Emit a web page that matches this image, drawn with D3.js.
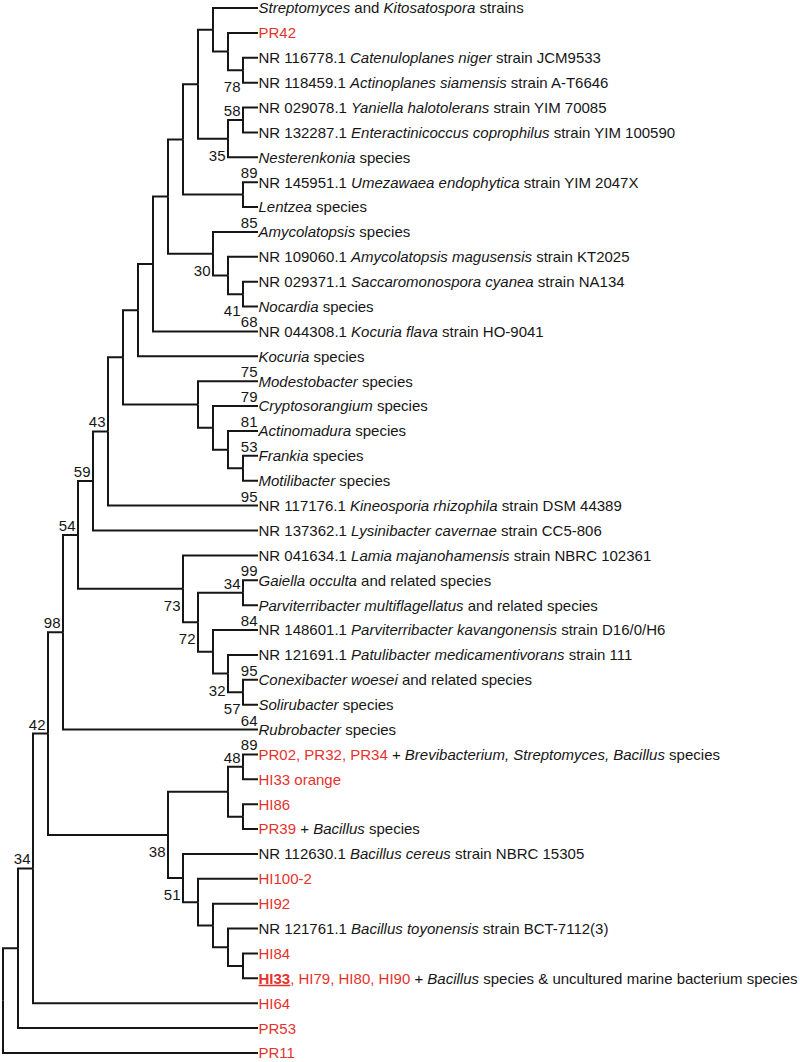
<!DOCTYPE html>
<html><head><meta charset="utf-8">
<script src="https://cdn.jsdelivr.net/npm/d3@7"></script>
<style>html,body{margin:0;padding:0;background:#fff}svg{display:block}</style>
</head><body>
<svg id="chart" width="800" height="1062"></svg>
<script>
// Leaf labels, top to bottom. *italic*, {red}, [bold underlined]
const leafLabels = [
  "*Streptomyces* and *Kitosatospora* strains",
  "{PR42}",
  "NR 116778.1 *Catenuloplanes niger* strain JCM9533",
  "NR 118459.1 *Actinoplanes siamensis* strain A-T6646",
  "NR 029078.1 *Yaniella halotolerans* strain YIM 70085",
  "NR 132287.1 *Enteractinicoccus coprophilus* strain YIM 100590",
  "*Nesterenkonia* species",
  "NR 145951.1 *Umezawaea endophytica* strain YIM 2047X",
  "*Lentzea* species",
  "*Amycolatopsis* species",
  "NR 109060.1 *Amycolatopsis magusensis* strain KT2025",
  "NR 029371.1 *Saccaromonospora cyanea* strain NA134",
  "*Nocardia* species",
  "NR 044308.1 *Kocuria flava* strain HO-9041",
  "*Kocuria* species",
  "*Modestobacter* species",
  "*Cryptosorangium* species",
  "*Actinomadura* species",
  "*Frankia* species",
  "*Motilibacter* species",
  "NR 117176.1 *Kineosporia rhizophila* strain DSM 44389",
  "NR 137362.1 *Lysinibacter cavernae* strain CC5-806",
  "NR 041634.1 *Lamia majanohamensis* strain NBRC 102361",
  "*Gaiella occulta* and related species",
  "*Parviterribacter multiflagellatus* and related species",
  "NR 148601.1 *Parviterribacter kavangonensis* strain D16/0/H6",
  "NR 121691.1 *Patulibacter medicamentivorans* strain 111",
  "*Conexibacter woesei* and related species",
  "*Solirubacter* species",
  "*Rubrobacter* species",
  "{PR02, PR32, PR34} + *Brevibacterium, Streptomyces, Bacillus* species",
  "{HI33 orange}",
  "{HI86}",
  "{PR39} + *Bacillus* species",
  "NR 112630.1 *Bacillus cereus* strain NBRC 15305",
  "{HI100-2}",
  "{HI92}",
  "NR 121761.1 *Bacillus toyonensis* strain BCT-7112(3)",
  "{HI84}",
  "{[HI33], HI79, HI80, HI90} + *Bacillus* species & uncultured marine bacterium species",
  "{HI64}",
  "{PR53}",
  "{PR11}"
];

// Tree topology (Newick, leaves = 1-based index into leafLabels, internal labels = bootstrap)
const topology = "(((((((((((((((1,(2,(3,4)78)),((5,6)58,7)35),(8,9)),(10,(11,(12,13)41))30),14),15),(16,(17,(18,(19,20))))),21)43,22)59,(23,((24,25)34,(26,(27,(28,29)57)32))72)73)54,30)98,(((31,32)48,(33,34)),(35,(36,(37,(38,(39,40)))))51)38)42,41)34,42),43)";

// Bootstrap values printed above leaf tips: [leaf index, value]
const tipSupport = [[8,89],[10,85],[14,68],[16,75],[17,79],[18,81],[19,53],[21,95],[24,99],[26,84],[28,95],[30,64],[31,89]];

// Internal bootstrap values drawn below-left of their node (others above-left)
const belowNodeSupport = [78,35,30,41,73,72,32,57,38,51];

function parseNewick(s) {
  let i = 0;
  function node() {
    const n = {};
    if (s[i] === '(') {
      i++;
      n.children = [node()];
      while (s[i] === ',') { i++; n.children.push(node()); }
      i++;
    }
    let lab = '';
    while (i < s.length && !',()'.includes(s[i])) lab += s[i++];
    if (n.children) { if (lab) n.support = +lab; } else n.leaf = +lab;
    return n;
  }
  return node();
}

function parseMarkup(str) {
  const segs = []; let cur = '', it = false, red = false, bold = false;
  const flush = () => { if (cur) segs.push({t: cur, it, red, bold}); cur = ''; };
  for (const ch of str) {
    if (ch === '*') { flush(); it = !it; }
    else if (ch === '{') { flush(); red = true; }
    else if (ch === '}') { flush(); red = false; }
    else if (ch === '[') { flush(); bold = true; }
    else if (ch === ']') { flush(); bold = false; }
    else cur += ch;
  }
  flush();
  return segs;
}

const RED = "#e4332d", INK = "#161616", FONT = "'Liberation Sans', Arial, Helvetica, sans-serif", FS = 15;

const root = d3.hierarchy(parseNewick(topology));
d3.cluster().nodeSize([1, 1]).separation(() => 1)(root);
const leaves = root.leaves();

const yScale = d3.scaleLinear().domain(d3.extent(leaves, d => d.x)).range([8, 1053]);
const xScale = d3.scaleLinear().domain([0, root.height]).range([3, 258]);

const svg = d3.select("#chart");
svg.append("rect").attr("width", 800).attr("height", 1062).attr("fill", "#fff");

// branches
svg.append("g").selectAll("path").data(root.links()).join("path")
  .attr("d", l => `M${xScale(l.source.y)},${yScale(l.source.x)}V${yScale(l.target.x)}H${xScale(l.target.y)}`)
  .attr("fill", "none").attr("stroke", INK).attr("stroke-width", 2).attr("stroke-linejoin", "miter");

// leaf labels
const lt = svg.append("g").attr("font-family", FONT).attr("font-size", FS)
  .selectAll("text").data(leaves).join("text")
  .attr("x", d => xScale(d.y) + 0.5)
  .attr("y", d => yScale(d.x) + 5.4)
  .attr("fill", INK)
  .style("white-space", "pre");
lt.each(function(d) {
  const t = d3.select(this);
  parseMarkup(leafLabels[d.data.leaf - 1]).forEach(s => {
    const ts = t.append("tspan").text(s.t);
    if (s.it) ts.attr("font-style", "italic");
    if (s.red) ts.attr("fill", RED);
    if (s.bold) ts.attr("font-weight", "bold").attr("text-decoration", "underline");
  });
});

// internal bootstrap values
const sg = svg.append("g").attr("font-family", FONT).attr("font-size", FS).attr("fill", INK).attr("text-anchor", "end");
sg.selectAll("text.node").data(root.descendants().filter(d => d.children && d.data.support != null)).join("text")
  .attr("class", "node")
  .attr("x", d => xScale(d.y) - 2.5)
  .attr("y", d => belowNodeSupport.includes(d.data.support) ? yScale(d.x) + 22 : yScale(d.x) - 4)
  .text(d => d.data.support);

// bootstrap values at leaf tips
const leafByIndex = new Map(leaves.map(d => [d.data.leaf, d]));
sg.selectAll("text.tip").data(tipSupport).join("text")
  .attr("class", "tip")
  .attr("x", d => xScale(leafByIndex.get(d[0]).y) - 0.5)
  .attr("y", d => yScale(leafByIndex.get(d[0]).x) - 4)
  .text(d => d[1]);
</script>
</body></html>
